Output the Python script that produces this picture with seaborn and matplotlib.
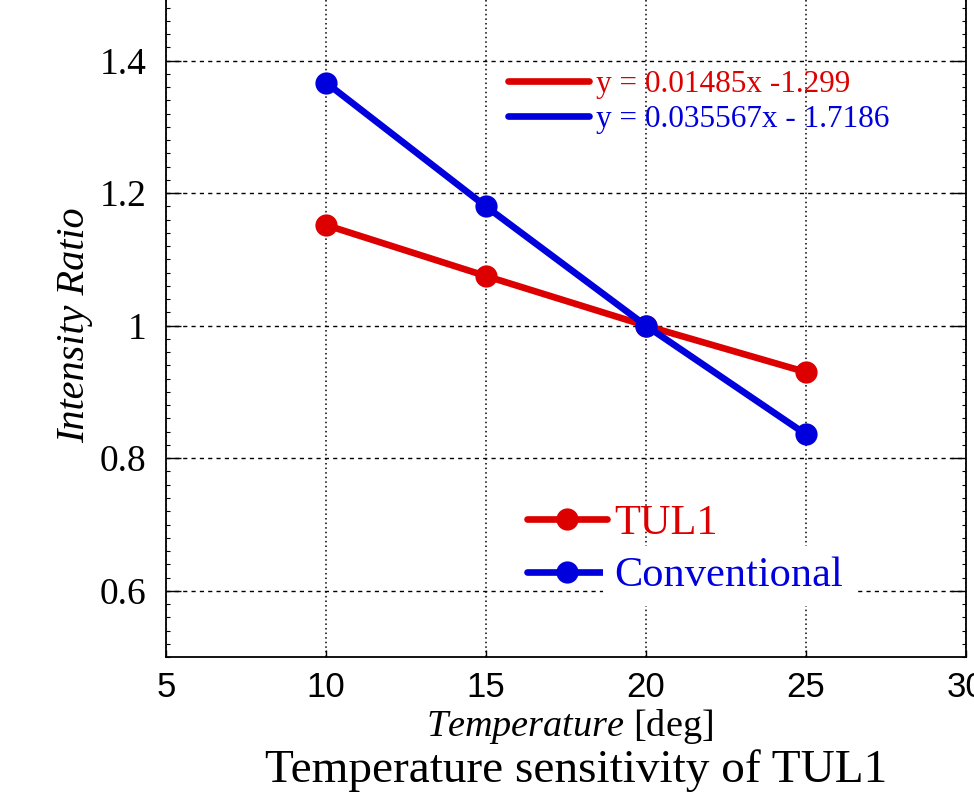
import numpy as np
import pandas as pd
import matplotlib
matplotlib.use("Agg")
import matplotlib.pyplot as plt
import seaborn as sns
from matplotlib.lines import Line2D
from matplotlib.ticker import MultipleLocator

# ---- data ----
temperatures = [10, 15, 20, 25]
tul1_ratio = [1.152, 1.075, 1.000, 0.930]
conventional_ratio = [1.367, 1.180, 1.000, 0.836]
series_names = ["TUL1", "Conventional"]
fit_labels = ["y = 0.01485x -1.299", "y = 0.035567x - 1.7186"]
x_ticks = [5, 10, 15, 20, 25, 30]
y_ticks = [0.6, 0.8, 1.0, 1.2, 1.4]
y_tick_labels = ["0.6", "0.8", "1", "1.2", "1.4"]

RED = "#dc0000"
BLUE = "#0000dc"

sns.set_theme(style="white")
plt.rcParams["font.family"] = ["Liberation Serif", "DejaVu Serif"]
plt.rcParams["mathtext.fontset"] = "custom"
plt.rcParams["mathtext.it"] = "Liberation Serif:italic"
plt.rcParams["mathtext.rm"] = "Liberation Serif"
plt.rcParams["text.color"] = "black"

df = pd.DataFrame({
    "Temperature": temperatures * 2,
    "Ratio": tul1_ratio + conventional_ratio,
    "Series": [series_names[0]] * 4 + [series_names[1]] * 4,
})

fig = plt.figure(figsize=(9.74, 7.95), dpi=100)
W, H = 974, 795
ax_left, ax_right, ax_bottom_px = 166, 966, 657
ax_h_px = 662.5
ax = fig.add_axes([ax_left / W, (H - ax_bottom_px) / H, (ax_right - ax_left) / W, ax_h_px / H])

LW = 4.8
sns.lineplot(data=df, x="Temperature", y="Ratio", hue="Series",
             palette={"TUL1": RED, "Conventional": BLUE},
             marker="o", markersize=16, markeredgewidth=0, linewidth=LW,
             ax=ax, legend=False, zorder=3)

ax.set_xlim(5, 30)
ax.set_ylim(0.5, 1.5)
ax.set_xticks(x_ticks)
ax.set_yticks(y_ticks)
ax.set_yticklabels(y_tick_labels)
ax.yaxis.set_minor_locator(MultipleLocator(0.02))
ax.set_xlabel("")
ax.set_ylabel("")

for sp in ["left", "right", "bottom"]:
    ax.spines[sp].set_color("black")
    ax.spines[sp].set_linewidth(1.3)
ax.spines["top"].set_visible(False)

ax.tick_params(axis="y", which="major", direction="in", length=11, width=1,
               left=True, right=True, labelsize=27, pad=14, colors="black")
ax.tick_params(axis="y", which="minor", direction="in", length=3, width=0.8,
               left=True, right=True, colors="black")
ax.tick_params(axis="x", which="major", direction="in", length=5, width=1,
               bottom=True, top=False, labelsize=25, pad=10, colors="black")
for lab in ax.get_xticklabels():
    lab.set_family(["Liberation Sans Narrow", "Liberation Sans", "DejaVu Sans"])

ax.yaxis.grid(True, which="major", linestyle=(0, (3, 3)), color="black", linewidth=1.0)
ax.xaxis.grid(True, which="major", linestyle=(0, (1, 2)), color="black", linewidth=1.1)
ax.set_axisbelow(True)

# fit-equation legend
fit_handles = [Line2D([], [], color=RED, linewidth=LW),
               Line2D([], [], color=BLUE, linewidth=LW)]
leg1 = ax.legend(fit_handles, fit_labels, loc="center left",
                 bbox_to_anchor=((508 - ax_left) / 800, (ax_bottom_px - 102) / ax_h_px),
                 frameon=False, fontsize=22.5, handlelength=2.6, handletextpad=0.22,
                 labelspacing=0.2, borderpad=0, borderaxespad=0)
for t, c in zip(leg1.get_texts(), [RED, BLUE]):
    t.set_color(c)
ax.add_artist(leg1)

# series legend
ser_handles = [Line2D([], [], color=RED, linewidth=LW, marker="o", markersize=16, markeredgewidth=0),
               Line2D([], [], color=BLUE, linewidth=LW, marker="o", markersize=16, markeredgewidth=0)]
leg2 = ax.legend(ser_handles, series_names, loc="center left",
                 bbox_to_anchor=((527 - ax_left) / 800, (ax_bottom_px - 550) / ax_h_px),
                 frameon=False, fontsize=30.5, handlelength=1.9, handletextpad=0.15,
                 labelspacing=0.32, borderpad=0, borderaxespad=0)
texts = leg2.get_texts()
texts[0].set_color(RED)
texts[1].set_color(BLUE)
texts[1].set_bbox(dict(facecolor="white", edgecolor="none", pad=8))

fig.text(75 / W, 1 - 325 / H, "Intensity Ratio", rotation=90, ha="center", va="center",
         fontsize=29, style="italic", color="black")
fig.text(570 / W, 1 - 727 / H, r"$\mathit{Temperature}$ [deg]", ha="center", va="center",
         fontsize=27.5, color="black")
fig.text(576 / W, 1 - 771 / H, "Temperature sensitivity of TUL1", ha="center", va="center",
         fontsize=34, color="black")

fig.savefig("out.png", dpi=100)
